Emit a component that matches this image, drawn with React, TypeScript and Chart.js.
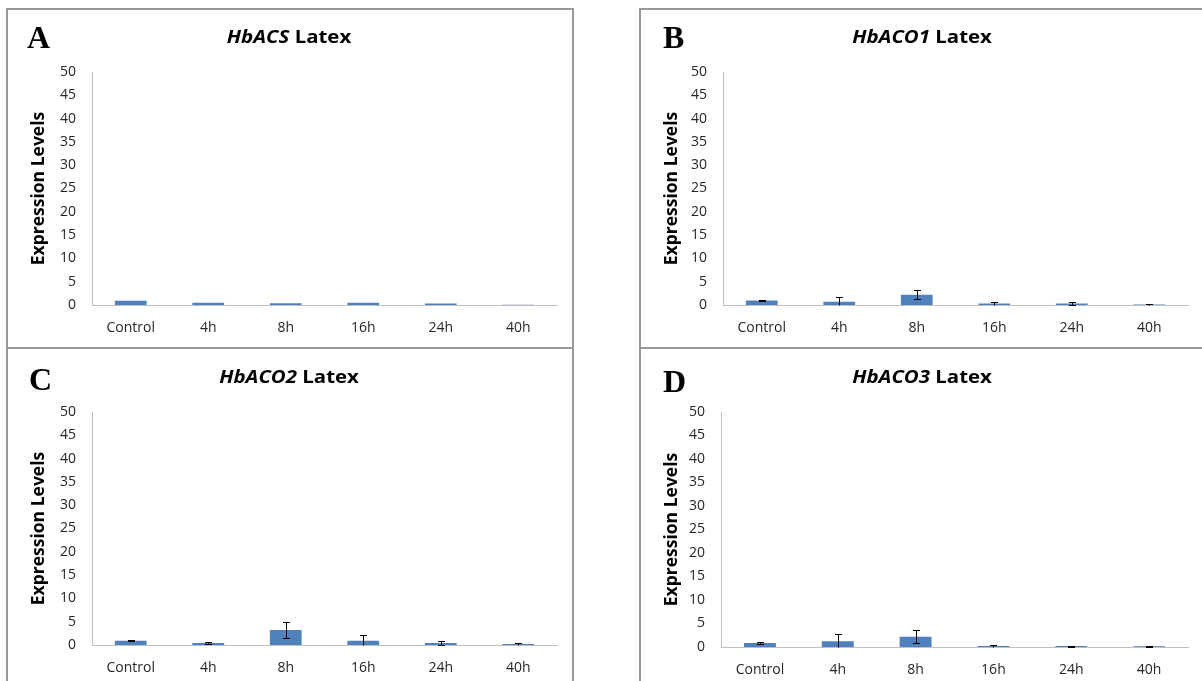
import React, { useEffect, useRef } from "react";
import { Chart, registerables } from "chart.js";

Chart.register(...registerables);

// ---- data ----
const categories = ["Control", "4h", "8h", "16h", "24h", "40h"];
const yAxisTitle = "Expression Levels";
const titleSuffix = " Latex";

const acsValues = [0.92, 0.5, 0.35, 0.5, 0.3, 0.05];
const acsErrors = [0, 0, 0, 0, 0, 0];

const aco1Values = [0.95, 0.7, 2.2, 0.3, 0.3, 0.1];
const aco1Errors = [0.05, 1.05, 0.95, 0.35, 0.25, 0.2];

const aco2Values = [0.9, 0.45, 3.2, 0.9, 0.45, 0.2];
const aco2Errors = [0.1, 0.3, 1.75, 1.3, 0.35, 0.2];

const aco3Values = [0.85, 1.2, 2.2, 0.2, 0.2, 0.15];
const aco3Errors = [0.15, 1.6, 1.4, 0.25, 0.1, 0.05];

const yMin = 0;
const yMax = 50;
const yStep = 5;

// ---- layout / style ----
const CW = 567;
const CH = 340;
const BAR_COLOR = "#4f81bd";
const AXIS_COLOR = "#bfbfbf";
const TEXT_FONT = '"Open Sans"';
const TICK_COLOR = "#262626";

type PanelSpec = {
  letter: string;
  gene: string;
  values: number[];
  errors: number[];
  left: number;
  top: number;
  chartLeft: number;
  chartRight: number;
  chartTop: number;
  chartBottom: number;
  letterX: number;
  letterY: number;
};

const panels: PanelSpec[] = [
  { letter: "A", gene: "HbACS", values: acsValues, errors: acsErrors, left: 6, top: 8,
    chartLeft: 86, chartRight: 551, chartTop: 64, chartBottom: 297, letterX: 21, letterY: 40 },
  { letter: "B", gene: "HbACO1", values: aco1Values, errors: aco1Errors, left: 639, top: 8,
    chartLeft: 84, chartRight: 549, chartTop: 64, chartBottom: 297, letterX: 24, letterY: 40 },
  { letter: "C", gene: "HbACO2", values: aco2Values, errors: aco2Errors, left: 6, top: 348,
    chartLeft: 86, chartRight: 551, chartTop: 64, chartBottom: 297, letterX: 23, letterY: 42 },
  { letter: "D", gene: "HbACO3", values: aco3Values, errors: aco3Errors, left: 639, top: 348,
    chartLeft: 82, chartRight: 549, chartTop: 64, chartBottom: 299, letterX: 24, letterY: 44 },
];

const errorBarPlugin = {
  id: "errorBars",
  afterDatasetsDraw(chart: any, _args: any, opts: any) {
    const errs: number[] = opts.errors || [];
    const vals: number[] = chart.data.datasets[0].data;
    const meta = chart.getDatasetMeta(0);
    const y = chart.scales.y;
    const ctx = chart.ctx;
    ctx.save();
    ctx.strokeStyle = "#000";
    ctx.lineWidth = 1;
    meta.data.forEach((bar: any, i: number) => {
      const e = errs[i];
      if (!e) return;
      const v = vals[i];
      const x = Math.round(bar.x) + 0.5;
      const top = Math.round(y.getPixelForValue(v + e)) + 0.5;
      const low = v - e;
      const bottom = Math.round(y.getPixelForValue(Math.max(0, low))) + 0.5;
      const cap = 3.5;
      ctx.beginPath();
      ctx.moveTo(x, top);
      ctx.lineTo(x, bottom);
      ctx.moveTo(x - cap, top);
      ctx.lineTo(x + cap, top);
      if (low > 0) {
        ctx.moveTo(x - cap, bottom);
        ctx.lineTo(x + cap, bottom);
      }
      ctx.stroke();
    });
    ctx.restore();
  },
};

const panelTextPlugin = {
  id: "panelText",
  afterDraw(chart: any, _args: any, opts: any) {
    const ctx = chart.ctx;
    ctx.save();
    ctx.fillStyle = "#000";
    ctx.textBaseline = "alphabetic";
    ctx.textAlign = "left";
    ctx.font = 'bold 32px "Liberation Serif", "Times New Roman", serif';
    ctx.fillText(opts.letter, opts.letterX, opts.letterY);

    const italicFont = `italic bold 17px ${TEXT_FONT}`;
    const plainFont = `bold 17px ${TEXT_FONT}`;
    ctx.font = italicFont;
    const w1 = ctx.measureText(opts.gene).width;
    ctx.font = plainFont;
    const w2 = ctx.measureText(titleSuffix).width;
    const sx = opts.stretch;
    const start = opts.titleX - ((w1 + w2) * sx) / 2;
    ctx.translate(start, opts.titleY);
    ctx.scale(sx, 1);
    ctx.font = italicFont;
    ctx.fillText(opts.gene, 0, 0);
    ctx.font = plainFont;
    ctx.fillText(titleSuffix, w1, 0);
    ctx.restore();
  },
};

function Panel({ spec }: { spec: PanelSpec }) {
  const ref = useRef<HTMLCanvasElement>(null);
  useEffect(() => {
    const canvas = ref.current;
    if (!canvas) return;
    const chart = new Chart(canvas, {
      type: "bar",
      data: {
        labels: categories,
        datasets: [
          {
            data: spec.values,
            backgroundColor: BAR_COLOR,
            borderWidth: 0,
            categoryPercentage: 1,
            barPercentage: 0.41,
          },
        ],
      },
      options: {
        responsive: false,
        animation: false,
        devicePixelRatio: 1,
        layout: {
          padding: { left: 0, top: spec.chartTop, right: CW - spec.chartRight, bottom: 0 },
        },
        plugins: {
          legend: { display: false },
          tooltip: { enabled: false },
          title: { display: false },
          errorBars: { errors: spec.errors },
          panelText: {
            letter: spec.letter,
            gene: spec.gene,
            letterX: spec.letterX,
            letterY: spec.letterY,
            titleX: 283,
            titleY: 35,
            stretch: 1.2,
          },
        } as any,
        scales: {
          x: {
            grid: { display: false, drawTicks: false },
            border: { display: true, color: AXIS_COLOR, width: 1 },
            ticks: {
              color: TICK_COLOR,
              font: { family: TEXT_FONT, size: 14 },
              padding: 15,
              maxRotation: 0,
            },
            afterFit: (s: any) => {
              s.height = CH - spec.chartBottom;
            },
          },
          y: {
            min: yMin,
            max: yMax,
            grid: { display: false, drawTicks: false },
            border: { display: true, color: AXIS_COLOR, width: 1 },
            ticks: {
              stepSize: yStep,
              color: TICK_COLOR,
              font: { family: TEXT_FONT, size: 14 },
              padding: 16,
            },
            title: {
              display: true,
              text: yAxisTitle,
              color: "#000",
              font: { family: TEXT_FONT, size: 17.5, weight: "bold" },
              padding: { top: 23, bottom: 0 },
            },
            afterFit: (s: any) => {
              s.width = spec.chartLeft;
            },
          },
        },
      },
      plugins: [errorBarPlugin, panelTextPlugin],
    });
    return () => chart.destroy();
  }, [spec]);
  return (
    <canvas
      ref={ref}
      width={CW}
      height={CH}
      style={{ position: "absolute", left: spec.left, top: spec.top, width: CW, height: CH }}
    />
  );
}

export default function App() {
  const borderStyle = "2px solid #999";
  const boxes = [
    { left: 6, top: 8, height: 341 },
    { left: 639, top: 8, height: 341 },
    { left: 6, top: 347, height: 400 },
    { left: 639, top: 347, height: 400 },
  ];
  return (
    <div
      style={{
        position: "fixed",
        left: 0,
        top: 0,
        width: 1202,
        height: 681,
        overflow: "hidden",
        background: "#fff",
      }}
    >
      {boxes.map((b, i) => (
        <div
          key={"b" + i}
          style={{
            position: "absolute",
            left: b.left,
            top: b.top,
            width: 568,
            height: b.height,
            border: borderStyle,
            boxSizing: "border-box",
          }}
        />
      ))}
      {panels.map((p) => (
        <Panel key={p.letter} spec={p} />
      ))}
    </div>
  );
}
